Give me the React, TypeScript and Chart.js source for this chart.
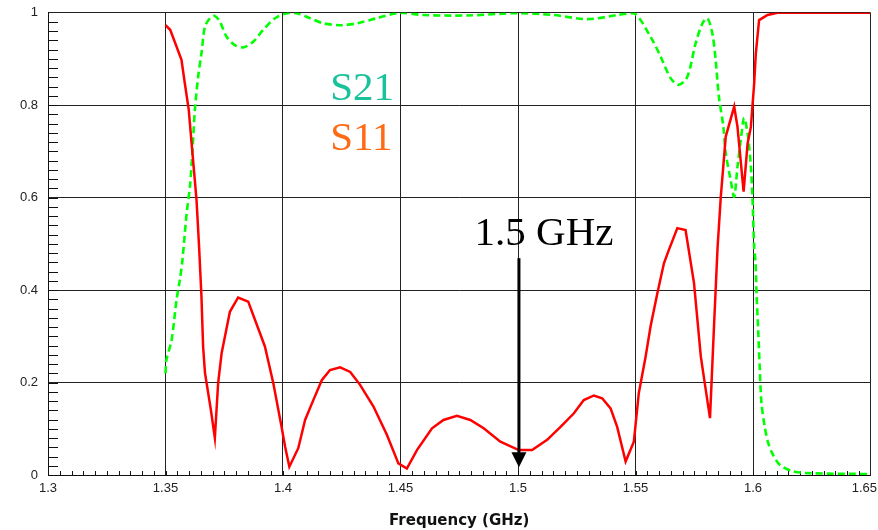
import React, { useEffect, useRef } from 'react';
import { Chart, registerables } from 'chart.js';

Chart.register(...registerables);

// Axis ticks
const xTicks = [1.3, 1.35, 1.4, 1.45, 1.5, 1.55, 1.6, 1.65];
const xTickLabels = ['1.3', '1.35', '1.4', '1.45', '1.5', '1.55', '1.6', '1.65'];
const yTicks = [0, 0.2, 0.4, 0.6, 0.8, 1];
const yTickLabels = ['0', '0.2', '0.4', '0.6', '0.8', '1'];
const xTitle = 'Frequency (GHz)';

// S11 (red, solid)
const s11Freq = [
  1.35, 1.352, 1.3568, 1.3582, 1.3599, 1.3611, 1.3632, 1.3643, 1.3653, 1.366,
  1.3668, 1.3693, 1.371, 1.3724, 1.3739, 1.3774, 1.3809, 1.3852, 1.3923, 1.3959,
  1.3994, 1.4009, 1.4027, 1.4065, 1.4094, 1.4129, 1.4165, 1.42, 1.4243, 1.4286,
  1.4328, 1.4385, 1.4442, 1.4491, 1.4527, 1.457, 1.4634, 1.4683, 1.474, 1.4797,
  1.4854, 1.4925, 1.5003, 1.506, 1.5124, 1.5181, 1.5237, 1.528, 1.5323, 1.5358,
  1.5394, 1.5422, 1.5458, 1.5493, 1.5514, 1.5543, 1.5564, 1.5593, 1.5621, 1.5642,
  1.5678, 1.5713, 1.5749, 1.5778, 1.5799, 1.5817, 1.5834, 1.5849, 1.5863, 1.5884,
  1.592, 1.5934, 1.596, 1.5977, 1.5991, 1.6005, 1.6012, 1.6026, 1.6062, 1.6104,
  1.65,
];
const s11Mag = [
  0.973, 0.963, 0.898, 0.848, 0.79, 0.718, 0.595, 0.493, 0.386, 0.278,
  0.221, 0.141, 0.08, 0.199, 0.264, 0.353, 0.384, 0.375, 0.278, 0.198,
  0.104, 0.061, 0.018, 0.058, 0.119, 0.162, 0.205, 0.227, 0.233, 0.223,
  0.195, 0.148, 0.087, 0.025, 0.014, 0.054, 0.101, 0.119, 0.128, 0.119,
  0.101, 0.072, 0.054, 0.054, 0.076, 0.104, 0.133, 0.162, 0.172, 0.166,
  0.144, 0.104, 0.029, 0.072, 0.177, 0.256, 0.321, 0.393, 0.458, 0.487,
  0.534, 0.53, 0.415, 0.256, 0.184, 0.123, 0.321, 0.49, 0.602, 0.732,
  0.797, 0.753, 0.613, 0.717, 0.753, 0.847, 0.912, 0.984, 0.995, 1.0,
  1.0,
];

// S21 (green, dashed)
const s21Freq = [
  1.35, 1.3504, 1.3526, 1.3547, 1.3561, 1.3572, 1.359, 1.3604, 1.3615, 1.3625,
  1.3639, 1.3653, 1.3668, 1.3689, 1.371, 1.3731, 1.376, 1.3795, 1.3831, 1.3873,
  1.3916, 1.3966, 1.4016, 1.4058, 1.4115, 1.4172, 1.425, 1.4314, 1.4399, 1.4498,
  1.4598, 1.4783, 1.4998, 1.5152, 1.5295, 1.5423, 1.5494, 1.5564, 1.5607, 1.565,
  1.5685, 1.5721, 1.5756, 1.5785, 1.5806, 1.5827, 1.5841, 1.5855, 1.5874, 1.5884,
  1.5905, 1.592, 1.5934, 1.5948, 1.5962, 1.5977, 1.5991, 1.5998, 1.6005, 1.6011,
  1.6015, 1.6022, 1.6029, 1.6036, 1.605, 1.6065, 1.6086, 1.6114, 1.6164, 1.6235,
  1.65,
];
const s21Mag = [
  0.22, 0.249, 0.292, 0.379, 0.422, 0.465, 0.566, 0.624, 0.703, 0.79,
  0.862, 0.912, 0.97, 0.988, 0.993, 0.981, 0.948, 0.93, 0.925, 0.937,
  0.963, 0.988, 0.999, 0.999, 0.988, 0.977, 0.973, 0.977, 0.988, 1.0,
  0.995, 0.994, 0.999, 0.995, 0.986, 0.995, 0.999, 0.948, 0.905, 0.858,
  0.844, 0.862, 0.934, 0.977, 0.988, 0.955, 0.898, 0.818, 0.753, 0.696,
  0.638, 0.602, 0.667, 0.725, 0.772, 0.739, 0.667, 0.595, 0.494, 0.459,
  0.393, 0.314, 0.227, 0.156, 0.104, 0.069, 0.043, 0.022, 0.009, 0.004,
  0.002,
];

// Annotations (data coordinates)
const markerFreq = 1.5004;
const markerTop = 0.469;
const markerTip = 0.017;

const xLabelPlugin = {
  id: 'xLabels',
  afterDraw(chart: any) {
    const { ctx } = chart;
    const xs = chart.scales.x;
    ctx.save();
    ctx.font = '13px "Liberation Sans"';
    ctx.fillStyle = '#222';
    ctx.textBaseline = 'middle';
    const y = xs.top + 13;
    xTicks.forEach((v, i) => {
      const px = xs.getPixelForValue(v);
      const w = ctx.measureText(xTickLabels[i]).width;
      let left = px - w / 2;
      if (left + w > chart.width - 1) left = chart.width - 1 - w;
      ctx.textAlign = 'left';
      ctx.fillText(xTickLabels[i], left, y);
    });
    ctx.restore();
  },
};

const annotPlugin = {
  id: 'annot',
  afterDatasetsDraw(chart: any) {
    const { ctx } = chart;
    const xs = chart.scales.x;
    const ys = chart.scales.y;
    ctx.save();
    ctx.font = '41px "Liberation Serif"';
    ctx.textAlign = 'left';
    ctx.textBaseline = 'alphabetic';
    ctx.fillStyle = '#19c29b';
    ctx.fillText('S21', xs.getPixelForValue(1.4201), ys.getPixelForValue(0.811));
    ctx.fillStyle = '#ff6a14';
    ctx.fillText('S11', xs.getPixelForValue(1.4201), ys.getPixelForValue(0.703));
    ctx.fillStyle = '#000';
    ctx.fillText('1.5 GHz', xs.getPixelForValue(1.4815), ys.getPixelForValue(0.4975));
    // arrow
    const ax = xs.getPixelForValue(markerFreq);
    const yTop = ys.getPixelForValue(markerTop);
    const yTip = ys.getPixelForValue(markerTip);
    ctx.strokeStyle = '#000';
    ctx.lineWidth = 3;
    ctx.beginPath();
    ctx.moveTo(ax, yTop);
    ctx.lineTo(ax, yTip - 12);
    ctx.stroke();
    ctx.beginPath();
    ctx.moveTo(ax - 7.5, yTip - 15);
    ctx.lineTo(ax + 7.5, yTip - 15);
    ctx.lineTo(ax, yTip);
    ctx.closePath();
    ctx.fill();
    ctx.restore();
  },
};

const minorTickPlugin = {
  id: 'minorTicks',
  beforeDatasetsDraw(chart: any) {
    const { ctx, chartArea } = chart;
    const xs = chart.scales.x;
    const ys = chart.scales.y;
    ctx.save();
    ctx.strokeStyle = '#111';
    ctx.lineWidth = 1;
    ctx.beginPath();
    for (let i = 1; i < 50; i++) {
      const y = Math.round(ys.getPixelForValue(i * 0.02)) + 0.5;
      ctx.moveTo(chartArea.left, y);
      ctx.lineTo(chartArea.left + 10, y);
    }
    for (let i = 1; i < 70; i++) {
      const x = Math.round(xs.getPixelForValue(1.3 + i * 0.005)) + 0.5;
      ctx.moveTo(x, chartArea.bottom);
      ctx.lineTo(x, chartArea.bottom - 4);
    }
    ctx.stroke();
    ctx.restore();
  },
};

export default function App() {
  const ref = useRef<HTMLCanvasElement>(null);
  useEffect(() => {
    if (!ref.current) return;
    const chart = new Chart(ref.current, {
      type: 'line',
      data: {
        datasets: [
          {
            label: 'S11',
            data: s11Freq.map((f, i) => ({ x: f, y: s11Mag[i] })),
            borderColor: '#ff0000',
            borderWidth: 2.5,
            pointRadius: 0,
            tension: 0,
            fill: false,
            order: 0,
          },
          {
            label: 'S21',
            data: s21Freq.map((f, i) => ({ x: f, y: s21Mag[i] })),
            borderColor: '#00ff00',
            borderWidth: 2.6,
            borderDash: [7, 4],
            pointRadius: 0,
            tension: 0.3,
            fill: false,
            order: 1,
          },
        ],
      },
      options: {
        animation: false,
        responsive: false,
        maintainAspectRatio: false,
        layout: { padding: { top: 12.7, right: 7.5, left: 0, bottom: 0 } },
        plugins: { legend: { display: false }, tooltip: { enabled: false } },
        scales: {
          x: {
            type: 'linear',
            min: 1.3,
            max: 1.65,
            afterBuildTicks: (scale: any) => {
              scale.ticks = xTicks.map((v) => ({ value: v }));
            },
            afterFit: (scale: any) => {
              scale.height = 55;
              scale.paddingLeft = 0;
              scale.paddingRight = 0;
            },
            ticks: {
              display: false,
              autoSkip: false,
            },
            grid: { color: '#222', lineWidth: 1, drawTicks: false },
            border: { display: true, color: '#111', width: 1 },
            title: {
              display: true,
              text: xTitle,
              font: { family: '"DejaVu Sans"', size: 15, weight: 'bold' },
              color: '#111',
              padding: { top: 0, bottom: 0 },
            },
          },
          y: {
            type: 'linear',
            min: 0,
            max: 1,
            afterBuildTicks: (scale: any) => {
              scale.ticks = yTicks.map((v) => ({ value: v }));
            },
            afterFit: (scale: any) => {
              scale.width = 48;
              scale.paddingTop = 0;
              scale.paddingBottom = 0;
            },
            ticks: {
              callback: (_v: any, i: number) => yTickLabels[i],
              font: { family: '"Liberation Sans"', size: 13 },
              color: '#222',
              padding: 10,
              autoSkip: false,
            },
            grid: { color: '#222', lineWidth: 1, drawTicks: false },
            border: { display: true, color: '#111', width: 1 },
          },
        },
      },
      plugins: [minorTickPlugin, annotPlugin, xLabelPlugin],
    } as any);
    return () => chart.destroy();
  }, []);
  return (
    <div style={{ position: 'absolute', left: 0, top: 0, width: 878, height: 530, background: '#fff' }}>
      <canvas ref={ref} width={878} height={530} style={{ display: 'block' }} />
    </div>
  );
}
